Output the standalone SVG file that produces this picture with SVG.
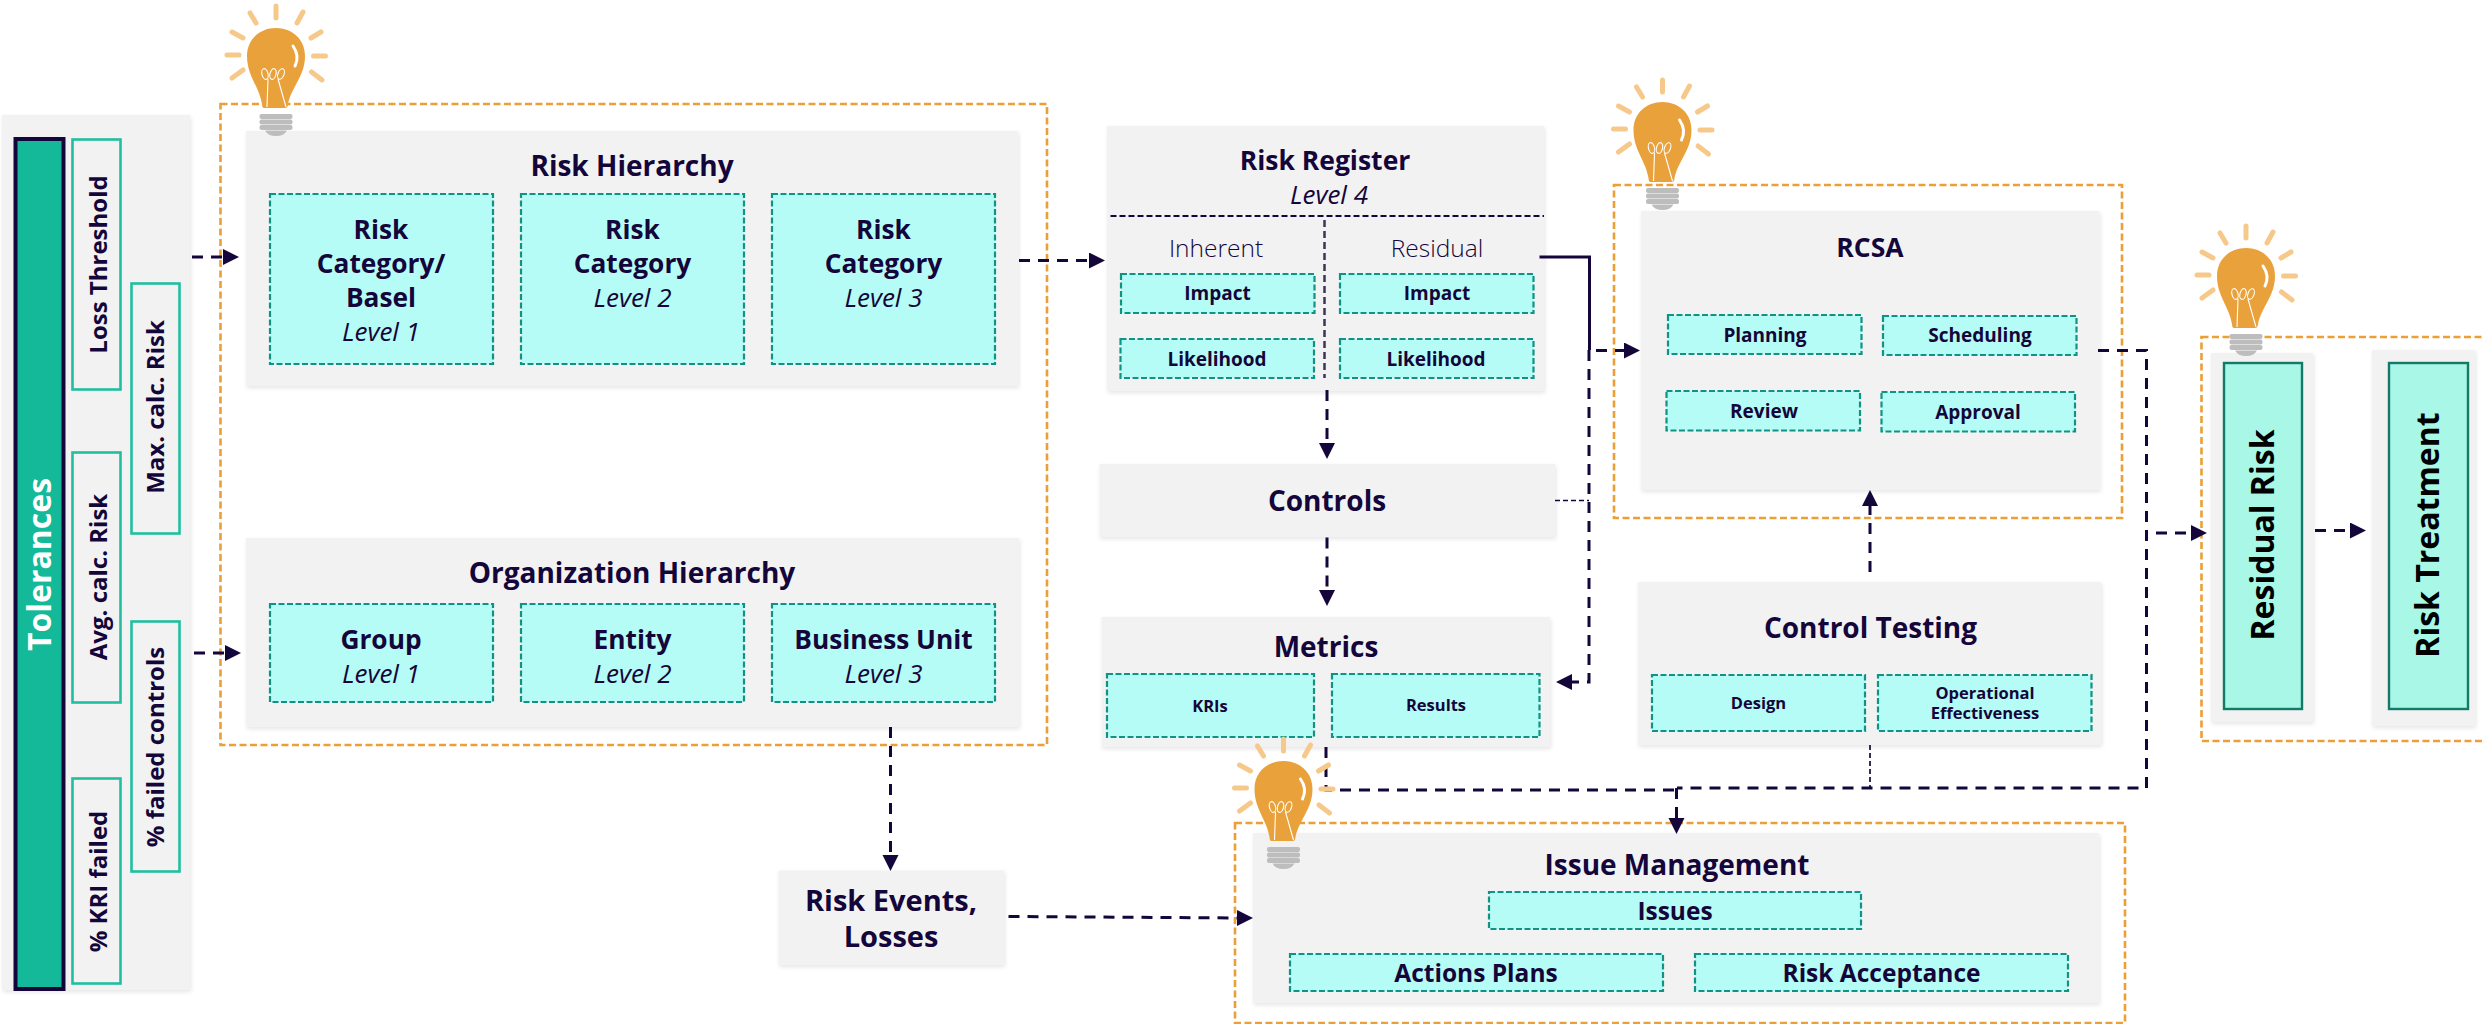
<svg xmlns="http://www.w3.org/2000/svg" xmlns:xlink="http://www.w3.org/1999/xlink" width="2483" height="1024" viewBox="0 0 2483 1024">
<style>
text{font-family:"Open Sans","Noto Sans","Liberation Sans",sans-serif;fill:#14063a;text-anchor:middle}
.p{fill:#f2f2f2;filter:url(#sh)}
.b{fill:#b6fcf6;stroke:#0e9384;stroke-width:2.2;stroke-dasharray:6 2.5}
.o{fill:none;stroke:#ec9f36;stroke-width:2.6;stroke-dasharray:7 3.5}
.s{fill:#f2f2f2;stroke:#1fbf9f;stroke-width:2.6}
.g{fill:#a9f7e6;stroke:#127a66;stroke-width:2.4}
.t{font-size:28px;font-weight:700}
.t2{font-size:26.500px;font-weight:700}
.e{font-size:29px;font-weight:700}
.m{font-size:26.300px;font-weight:700}
.i{font-size:24.500px;font-weight:700}
.l{font-size:26px;font-style:italic;font-weight:400}
.u{font-size:24.500px;font-weight:300}
.n{font-size:19px;font-weight:700}
.k{font-size:16.500px;font-weight:700}
.z{font-size:24px;font-weight:700}
.c{fill:none;stroke:#14063a;stroke-width:3;stroke-dasharray:11 8}
.c2{fill:none;stroke:#14063a;stroke-width:1.700;stroke-dasharray:5 3}
.a{marker-end:url(#ah)}
</style>
<defs>
<filter id="sh" x="-5%" y="-5%" width="110%" height="112%"><feDropShadow dx="1" dy="2" stdDeviation="2" flood-color="#000" flood-opacity=".1"/></filter>
<marker id="ah" markerUnits="userSpaceOnUse" markerWidth="17" markerHeight="17" refX="0" refY="8" orient="auto"><path d="M0 0L16 8L0 16Z" fill="#14063a"/></marker>
<symbol id="bulb" overflow="visible" viewBox="-52 0 104 134" width="104" height="134">
<g fill="none" stroke="#f6c98b" stroke-width="5" stroke-linecap="round"><path d="M0 2V14M-26 9L-20 19M27 8L21 19M-44 28L-33 34M45 28L35 34M-49 51H-37M37.500 52H49.500M-44 74L-33 66M46 76L35.500 68"/></g>
<path d="M-12 104Q-14 104 -14 100C-17 82 -29 72 -29 52C-29 35 -16 24 0 24C16 24 29 35 29 52C29 72 16 82 12 100Q12 104 9 104Z" fill="#e9a23b"/>
<path d="M17 42Q24 52 19 62" fill="none" stroke="#fff" stroke-width="3" stroke-linecap="round"/>
<g fill="none" stroke="#fff" stroke-width="1.100"><path d="M-9 103L-8 75M10 103L2 75"/><ellipse cx="-11" cy="70" rx="3" ry="5.500" transform="rotate(-15 -11 70)"/><ellipse cx="-3" cy="70" rx="3" ry="5.500" transform="rotate(15 -3 70)"/><ellipse cx="5" cy="70" rx="3" ry="5.500" transform="rotate(20 5 70)"/></g>
<g fill="#bdbdbd"><rect x="-16.500" y="110" width="33" height="5" rx="2"/><rect x="-16.500" y="115.500" width="33" height="5" rx="2"/><rect x="-16.500" y="121" width="33" height="5" rx="2"/><path d="M-11 126.500H11Q8 132 0 132Q-8 132 -11 126.500Z"/></g>
</symbol>
</defs>
<rect width="2483" height="1024" fill="#fff"/>

<g id="group-outlines">
<rect class="o" x="220.500" y="104" width="826.500" height="641"/>
<rect class="o" x="1614" y="185" width="508" height="333"/>
<rect class="o" x="2201.500" y="337" width="290" height="404"/>
<rect class="o" x="1235" y="823" width="890" height="200"/>
</g>

<g id="tolerances">
<rect class="p" x="2" y="115" width="188" height="875"/>
<rect x="15.500" y="139" width="48" height="850" fill="#13b998" stroke="#14063a" stroke-width="4"/>
<text transform="rotate(-90 51 564.500)" x="51" y="564.500" style="font-size:32px;font-weight:700;fill:#fff">Tolerances</text>
<rect class="s" x="72.500" y="139.500" width="48" height="250"/>
<text class="z" transform="rotate(-90 106.800 264.500)" x="106.800" y="264.500">Loss Threshold</text>
<rect class="s" x="131.500" y="283.500" width="48" height="250"/>
<text class="z" transform="rotate(-90 164 407)" x="164" y="407">Max. calc. Risk</text>
<rect class="s" x="72.500" y="452.500" width="48" height="250"/>
<text class="z" transform="rotate(-90 106.800 577)" x="106.800" y="577">Avg. calc. Risk</text>
<rect class="s" x="131.500" y="621.500" width="48" height="250"/>
<text class="z" transform="rotate(-90 164 747)" x="164" y="747">% failed controls</text>
<rect class="s" x="72.500" y="778.500" width="48" height="205"/>
<text class="z" transform="rotate(-90 106.800 881.500)" x="106.800" y="881.500">% KRI failed</text>
</g>

<g id="risk-hierarchy">
<rect class="p" x="246" y="131" width="772" height="255"/>
<text class="t" x="632" y="176">Risk Hierarchy</text>
<rect class="b" x="270" y="194" width="223" height="170"/>
<text class="m" x="381" y="239">Risk</text><text class="m" x="381" y="273">Category/</text><text class="m" x="381" y="307">Basel</text><text class="l" x="381" y="341">Level 1</text>
<rect class="b" x="521" y="194" width="223" height="170"/>
<text class="m" x="632.500" y="239">Risk</text><text class="m" x="632.500" y="273">Category</text><text class="l" x="632.500" y="307">Level 2</text>
<rect class="b" x="772" y="194" width="223" height="170"/>
<text class="m" x="883.500" y="239">Risk</text><text class="m" x="883.500" y="273">Category</text><text class="l" x="883.500" y="307">Level 3</text>
</g>

<g id="organization-hierarchy">
<rect class="p" x="246" y="538" width="773" height="189"/>
<text class="t" x="632" y="583">Organization Hierarchy</text>
<rect class="b" x="270" y="604" width="223" height="98"/>
<text class="m" x="381" y="649">Group</text><text class="l" x="381" y="683">Level 1</text>
<rect class="b" x="521" y="604" width="223" height="98"/>
<text class="m" x="632.500" y="649">Entity</text><text class="l" x="632.500" y="683">Level 2</text>
<rect class="b" x="772" y="604" width="223" height="98"/>
<text class="m" x="883.500" y="649">Business Unit</text><text class="l" x="883.500" y="683">Level 3</text>
</g>

<g id="risk-register">
<rect class="p" x="1107" y="126" width="437" height="265"/>
<text class="t2" x="1325" y="170">Risk Register</text>
<text class="l" x="1329" y="204">Level 4</text>
<path d="M1110.500 216H1544" fill="none" stroke="#14063a" stroke-width="2" stroke-dasharray="6 3"/>
<path d="M1324.500 220V378" fill="none" stroke="#3d3557" stroke-width="2.500" stroke-dasharray="7 4"/>
<text class="u" x="1216" y="257">Inherent</text>
<text class="u" x="1437" y="257">Residual</text>
<rect class="b" x="1121" y="274" width="193.500" height="39"/><text class="n" x="1217.500" y="300">Impact</text>
<rect class="b" x="1340" y="274" width="193.500" height="39"/><text class="n" x="1437" y="300">Impact</text>
<rect class="b" x="1120.500" y="339" width="193.500" height="39"/><text class="n" x="1217" y="366">Likelihood</text>
<rect class="b" x="1340" y="339" width="193.500" height="39"/><text class="n" x="1436" y="366">Likelihood</text>
</g>

<g id="controls">
<rect class="p" x="1099.500" y="464" width="455.500" height="73"/>
<text class="t" x="1327" y="511">Controls</text>
</g>

<g id="metrics">
<rect class="p" x="1101.500" y="617" width="448.500" height="130"/>
<text class="t" x="1326" y="656.500">Metrics</text>
<rect class="b" x="1107" y="674" width="207" height="63"/><text class="k" x="1210" y="712">KRIs</text>
<rect class="b" x="1332" y="674" width="207.500" height="63"/><text class="k" x="1436" y="711">Results</text>
</g>

<g id="rcsa">
<rect class="p" x="1641" y="211" width="458.500" height="279"/>
<text class="t2" x="1870" y="257">RCSA</text>
<rect class="b" x="1668" y="315" width="193.500" height="39"/><text class="n" x="1765" y="342">Planning</text>
<rect class="b" x="1883" y="316" width="193.500" height="39"/><text class="n" x="1980" y="342">Scheduling</text>
<rect class="b" x="1666.500" y="391" width="193.500" height="39.500"/><text class="n" x="1764" y="418">Review</text>
<rect class="b" x="1881.500" y="392" width="193.500" height="39.500"/><text class="n" x="1978" y="419">Approval</text>
</g>

<g id="control-testing">
<rect class="p" x="1638" y="582" width="463" height="163"/>
<text class="t" x="1870.500" y="638">Control Testing</text>
<rect class="b" x="1652" y="675" width="213" height="56"/><text class="k" x="1758.500" y="709">Design</text>
<rect class="b" x="1878" y="675" width="213.500" height="56"/><text class="k" x="1985" y="699">Operational</text><text class="k" x="1985" y="719">Effectiveness</text>
</g>

<g id="risk-events">
<rect class="p" x="778.500" y="870.500" width="225.500" height="94.500"/>
<text class="e"><tspan x="891" y="911">Risk Events,</tspan><tspan x="891" y="946.500">Losses</tspan></text>
</g>

<g id="issue-management">
<rect class="p" x="1253" y="833" width="846" height="170"/>
<text class="t" x="1677" y="875">Issue Management</text>
<rect class="b" x="1489" y="892" width="372" height="37"/><text class="i" x="1675" y="920">Issues</text>
<rect class="b" x="1290" y="954" width="373" height="37"/><text class="i" x="1476" y="981.500">Actions Plans</text>
<rect class="b" x="1695" y="954" width="373" height="37"/><text class="i" x="1881.500" y="981.500">Risk Acceptance</text>
</g>

<g id="residual-risk">
<rect class="p" x="2211" y="353" width="102" height="369"/>
<rect class="g" x="2224" y="363" width="78" height="346"/>
<text transform="rotate(-90 2274 535)" x="2274" y="535" style="font-size:32px;font-weight:700;fill:#000">Residual Risk</text>
</g>

<g id="risk-treatment">
<rect class="p" x="2372" y="350" width="103" height="376"/>
<rect class="g" x="2389" y="363" width="79" height="346"/>
<text transform="rotate(-90 2439 535)" x="2439" y="535" style="font-size:32px;font-weight:700;fill:#000">Risk Treatment</text>
</g>

<g id="connectors">
<path class="c a" d="M192 257H223"/>
<path class="c a" d="M194 653H225"/>
<path class="c a" d="M1019 260.500H1089"/>
<path class="c a" d="M1327 390V443"/>
<path class="c a" d="M1327 537.500V590"/>
<path class="c a" d="M890.500 727V855"/>
<path class="c a" d="M1008.500 916.500L1237 918"/>
<path d="M1539.500 257H1589.500V350" fill="none" stroke="#14063a" stroke-width="3"/>
<path class="c a" d="M1596 350.500H1624"/>
<path class="c a" d="M1589 350V682H1572"/>
<path class="c2" d="M1555 500.500H1589"/>
<path class="c" d="M2098 350.500H2146.500V788H1677"/>
<path class="c a" d="M2156 533H2191"/>
<path class="c a" d="M2315 530.500H2350"/>
<path class="c" d="M1326 747V790H1677"/>
<path class="c a" d="M1676.500 788V818"/>
<path class="c2" d="M1870 745V788"/>
<path class="c a" d="M1870 572V506"/>
</g>

<g id="bulbs">
<use href="#bulb" x="224" y="4"/>
<use href="#bulb" x="1610.500" y="78"/>
<use href="#bulb" x="2194" y="224"/>
<use href="#bulb" x="1231.500" y="737"/>
</g>
</svg>
